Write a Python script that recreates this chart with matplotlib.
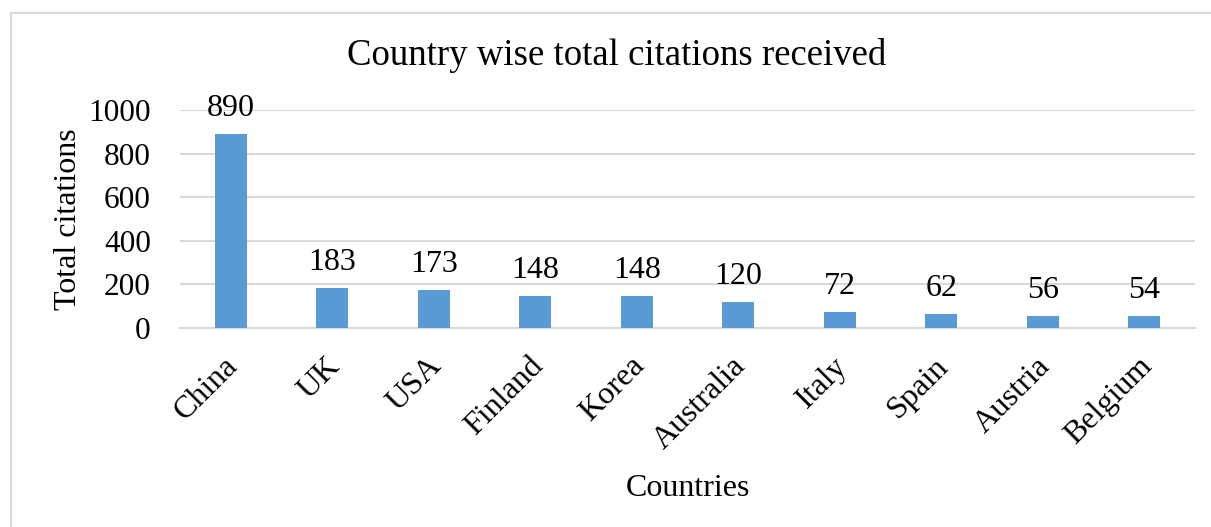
import matplotlib
matplotlib.use("Agg")
import matplotlib.pyplot as plt
import matplotlib.transforms as mtransforms
from matplotlib.lines import Line2D

countries = ["China", "UK", "USA", "Finland", "Korea", "Australia", "Italy", "Spain", "Austria", "Belgium"]
citations = [890, 183, 173, 148, 148, 120, 72, 62, 56, 54]
yticks = [0, 200, 400, 600, 800, 1000]

plt.rcParams['font.family'] = ['Liberation Serif', 'DejaVu Serif']

W, H = 1211, 527
fig = plt.figure(figsize=(W / 100, H / 100), dpi=100)
ax = fig.add_axes([180 / W, 1 - 328 / H, (1195 - 180) / W, (328 - 110) / H])

x = list(range(len(countries)))
ax.bar(x, citations, width=0.315, color="#5B9BD5", zorder=3)
ax.set_xlim(-0.5, len(countries) - 0.5)
ax.set_ylim(0, 1000)
ax.set_yticks(yticks)
ax.set_yticklabels([str(v) for v in yticks], fontsize=22.5)
ax.grid(axis="y", color="#D9D9D9", linewidth=1.5, zorder=0)
for s in ["top", "right", "left"]:
    ax.spines[s].set_visible(False)
ax.spines["bottom"].set_color("#D9D9D9")
ax.spines["bottom"].set_linewidth(1.5)
ax.tick_params(axis="both", length=0)
ax.tick_params(axis="y", pad=21)
ax.set_xticks(x)
ax.set_xticklabels(countries, rotation=45, ha="right", rotation_mode="anchor", fontsize=23)
ax.tick_params(axis="x", pad=17)
shift = mtransforms.ScaledTranslation(-7 / 100, 0, fig.dpi_scale_trans)
for lbl in ax.get_xticklabels():
    lbl.set_transform(lbl.get_transform() + shift)

for xi, v in zip(x, citations):
    ax.annotate(str(v), (xi, v), xytext=(0, 8), textcoords="offset points",
                ha="center", va="bottom", fontsize=23)

ax.set_ylabel("Total citations", fontsize=23, labelpad=4)
ax.set_xlabel("Countries", fontsize=23, labelpad=14)
fig.text(617 / W, 1 - 56 / H, "Country wise total citations received", ha="center", va="center", fontsize=26.5)

# chart border
fig.add_artist(Line2D([11 / W, 1], [1 - 13 / H, 1 - 13 / H], color="#D9D9D9", linewidth=1.5, transform=fig.transFigure))
fig.add_artist(Line2D([11 / W, 11 / W], [1 - 13 / H, 0], color="#D9D9D9", linewidth=1.5, transform=fig.transFigure))

fig.savefig("out.png", dpi=100)
